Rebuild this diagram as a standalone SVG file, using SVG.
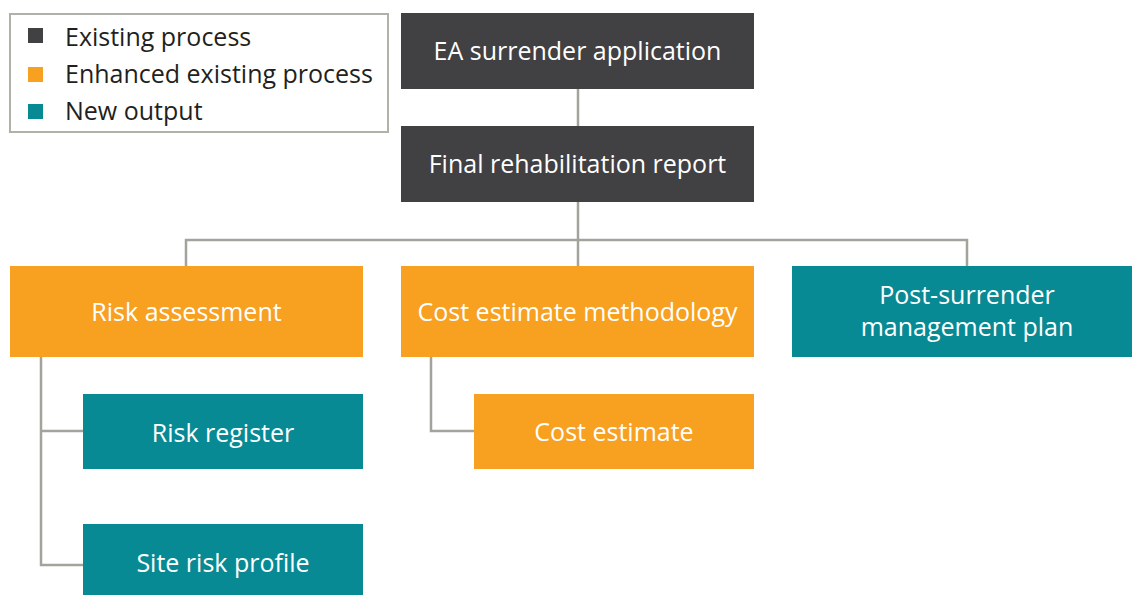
<svg xmlns="http://www.w3.org/2000/svg" width="1132" height="595" viewBox="0 0 1132 595">
<style>
.t{font-family:"Open Sans","Noto Sans","DejaVu Sans",sans-serif;font-size:25px;fill:#ffffff;text-anchor:middle}
.lg{font-family:"Open Sans","Noto Sans","DejaVu Sans",sans-serif;font-size:25px;fill:#231f20}
.dark{fill:#414042}
.orange{fill:#F8A01F}
.teal{fill:#078A94}
.conn{fill:none;stroke:#A2A39B;stroke-width:2.5}
</style>
<rect width="1132" height="595" fill="#ffffff"/>
<g id="legend">
<rect x="10" y="14" width="378" height="118" fill="#ffffff" stroke="#B0B1A9" stroke-width="2"/>
<rect x="28" y="28" width="15" height="15" class="dark"/>
<rect x="28" y="67" width="15" height="15" class="orange"/>
<rect x="28" y="104" width="15" height="15" class="teal"/>
<text x="65" y="46" class="lg">Existing process</text>
<text x="65" y="83" class="lg">Enhanced existing process</text>
<text x="65" y="120" class="lg">New output</text>
</g>
<g id="connectors">
<path class="conn" d="M578 89V126"/>
<path class="conn" d="M578 202V266"/>
<path class="conn" d="M186 266V240H967V266"/>
<path class="conn" d="M41 348V565H83"/>
<path class="conn" d="M41 431H83"/>
<path class="conn" d="M431 357V431H474"/>
</g>
<g id="ea">
<rect x="401" y="13" width="353" height="76" class="dark"/>
<text x="577.5" y="60" class="t">EA surrender application</text>
</g>
<g id="final">
<rect x="401" y="126" width="353" height="76" class="dark"/>
<text x="577.5" y="173" class="t">Final rehabilitation report</text>
</g>
<g id="risk">
<rect x="10" y="266" width="353" height="91" class="orange"/>
<text x="186.5" y="321" class="t">Risk assessment</text>
</g>
<g id="cost-method">
<rect x="401" y="266" width="353" height="91" class="orange"/>
<text x="577.5" y="321" class="t">Cost estimate methodology</text>
</g>
<g id="post">
<rect x="792" y="266" width="340" height="91" class="teal"/>
<text x="967" y="304" class="t">Post-surrender</text>
<text x="967" y="336" class="t">management plan</text>
</g>
<g id="register">
<rect x="83" y="394" width="280" height="75" class="teal"/>
<text x="223" y="442" class="t">Risk register</text>
</g>
<g id="profile">
<rect x="83" y="524" width="280" height="71" class="teal"/>
<text x="223" y="572" class="t">Site risk profile</text>
</g>
<g id="cost">
<rect x="474" y="394" width="280" height="75" class="orange"/>
<text x="614" y="441" class="t">Cost estimate</text>
</g>
</svg>
